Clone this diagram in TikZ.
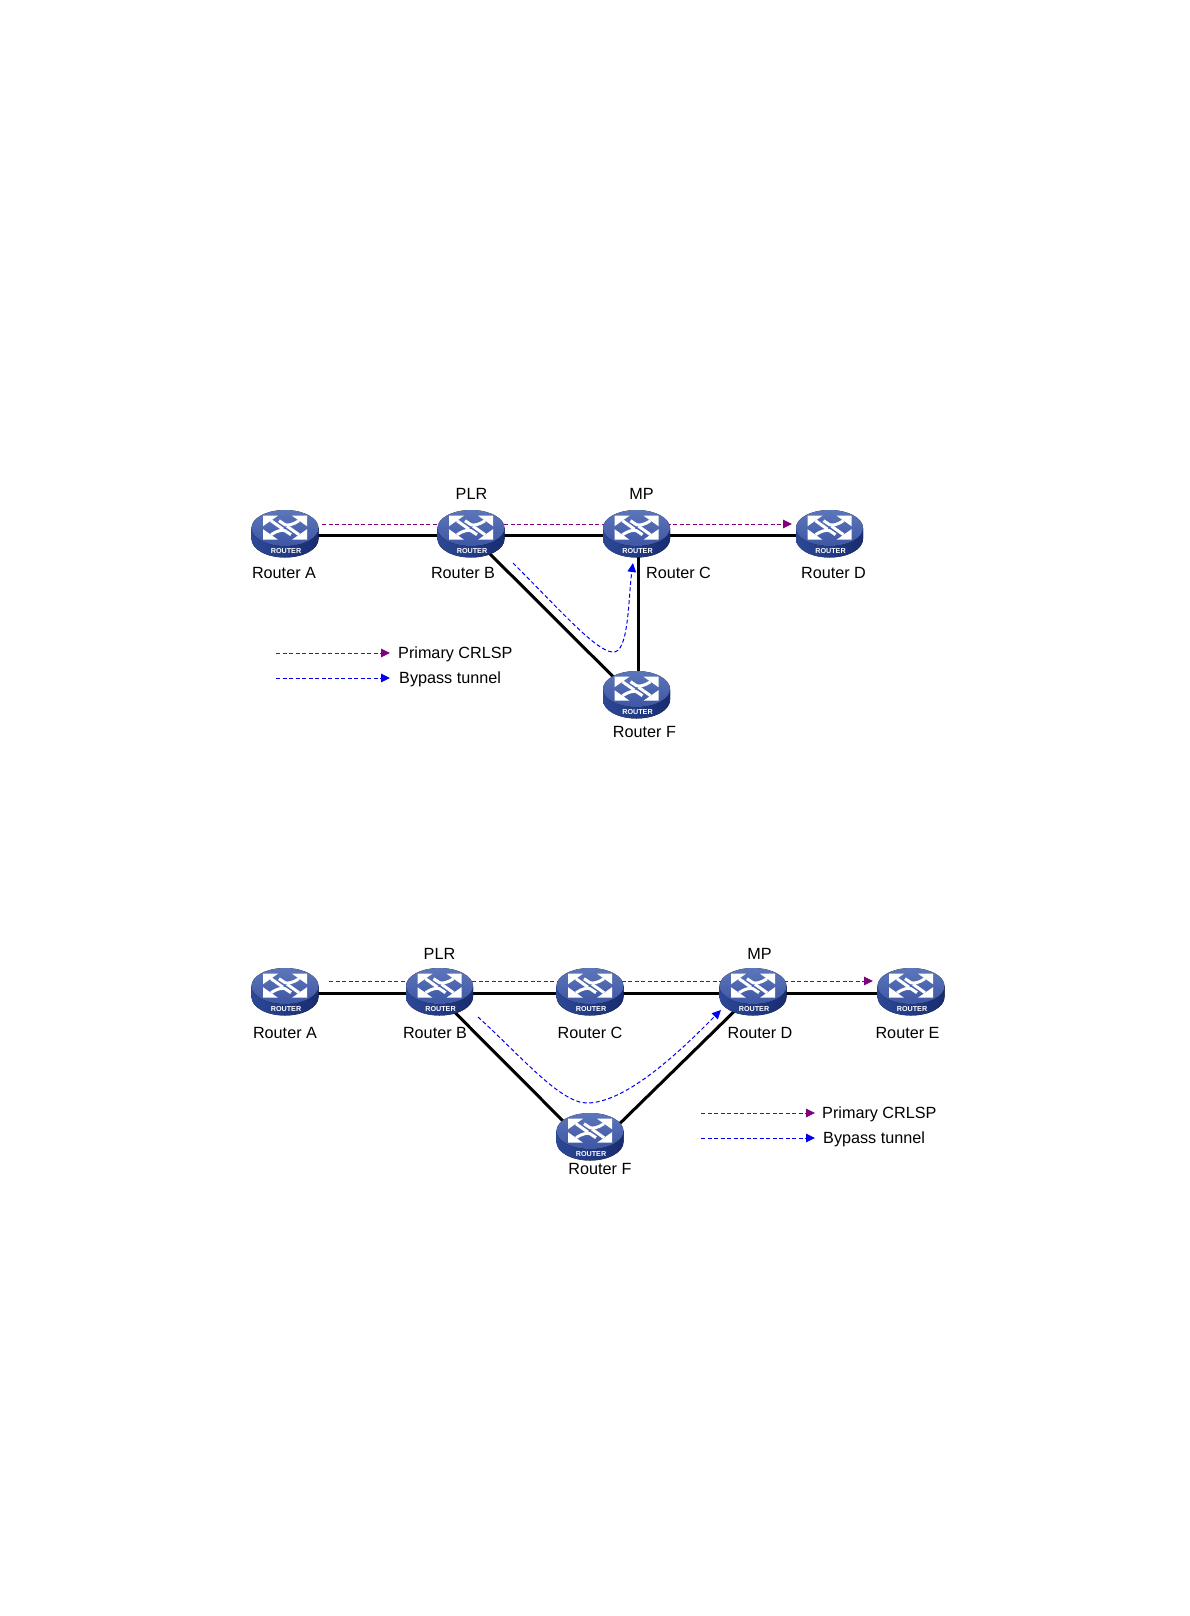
\documentclass[tikz,border=0pt]{standalone}
\usepackage{fontspec}
\setmainfont{Liberation Sans}
\usetikzlibrary{arrows.meta}
\definecolor{primary}{RGB}{128,0,128}
\definecolor{bypass}{RGB}{0,0,240}
\definecolor{discTop}{RGB}{92,118,186}
\definecolor{discLow}{RGB}{62,86,164}
\definecolor{rimA}{RGB}{44,72,150}
\definecolor{rimB}{RGB}{24,44,112}
\tikzset{
  anchorpt/.style={inner sep=0pt,minimum size=1pt},
  lbl/.style={font=\fontsize{16.2}{16.2}\selectfont,inner sep=0pt,text height=11.6pt,text depth=0pt},
  link/.style={black,line width=3pt},
  lsp/.style={line width=1pt,dash pattern=on 4pt off 2.5pt,-{Triangle[length=9pt,width=8.5pt]}},
  router/.pic={
    \fill[left color=rimA,right color=rimB] (-33.5,-7)--(-33.5,4) .. controls (-33.5,14.2) and (-18.5,22.5) .. (0,22.5) .. controls (18.5,22.5) and (33.5,14.2) .. (33.5,4)--(33.5,-7)--cycle;
    \fill[top color=discTop,bottom color=discLow] (0,-7) ellipse[x radius=33.5,y radius=18];
    \begin{scope}[yshift=7.3pt,white]
      \foreach \a in {0,180}{
        \begin{scope}[rotate=\a]
          % corner heads
          \fill (-22,-12)--(-7,-12)--(-22,-1.5)--cycle;
          \fill (22,-12)--(7,-12)--(22,-1.5)--cycle;
          % tails
          \draw[line width=3pt] (-14,-7)--(-2,1.5);
          \draw[line width=3pt] (14,-7) .. controls (8,-3) and (3,-2) .. (0,-3) .. controls (-2,-4) and (-4,-6) .. (-6,-7);
        \end{scope}
      }
    \end{scope}
    \node[white,font=\bfseries\fontsize{7.2}{7.2}\selectfont,inner sep=0pt] (tag) at (1,16.5) {ROUTER};
  }
}
\begin{document}
\begin{tikzpicture}[x=1pt,y=-1pt]
  \useasboundingbox[fill=white] (0,0) rectangle (1190,1616);
  % routers, upper and lower network
  \foreach \nm/\x/\y in {ua/285/535,ub/471/535,uc/636.5/535,ud/829.5/535,uf/636.5/696,
                         la/285/993,lb/439.5/993,lc/590/993,ld/753/993,le/911/993,lf/590/1138}{
    \node[anchorpt] (\nm) at (\x,\y) {};
  }
  \foreach \a/\b in {ua/ub,ub/uc,uc/ud,la/lb,lb/lc,lc/ld,ld/le}{
    \draw[link] (\a.center)--(\b.center);
  }
  \draw[link] (ub.center)--([xshift=-4pt]uf.center);
  \draw[link] ([xshift=2pt]uc.center)--([xshift=2pt]uf.center);
  \draw[link] ([xshift=-4pt]lb.center)--([xshift=-10pt]lf.center);
  \draw[link] (ld.center)--([xshift=15pt]lf.center);
  % primary paths
  \coordinate (upA) at (322,524);
  \coordinate (upB) at (792,524);
  \coordinate (lpA) at (329,981);
  \coordinate (lpB) at (873,981);
  \draw[lsp,primary] (upA)--(upB);
  \draw[lsp,primary] (lpA)--(lpB);
  \foreach \nm in {ua,ub,uc,ud,uf,la,lb,lc,ld,le,lf}{
    \pic (\nm-icon) at (\nm) {router};
  }
  % bypass tunnels
  \coordinate (ubA) at (513,563);
  \coordinate (ubB) at (633,563);
  \coordinate (lbA) at (478,1017);
  \coordinate (lbB) at (721,1010);
  \draw[lsp,bypass] (ubA) .. controls (560,610) and (595,650) .. (612,652) .. controls (629,655) and (628,600) .. (ubB);
  \draw[lsp,bypass] (lbA) .. controls (520,1055) and (560,1103) .. (587,1103) .. controls (630,1103) and (692,1039) .. (lbB);
  % labels
  \foreach \nm/\x/\y/\txt in {
    tA/284/573/Router A,tB/463/573/Router B,tC/678.5/573/Router C,tD/833.5/573/Router D,tF/644.5/732/Router F,
    tP/471.5/494/PLR,tM/641.5/494/MP,
    bA/285/1033/Router A,bB/435/1033/Router B,bC/590/1033/Router C,bD/760/1033/Router D,bE/907.5/1033/Router E,bF/600/1169/Router F,
    bP/439.5/954/PLR,bM/759.5/954/MP}{
    \node[lbl] (\nm) at (\x,\y) {\txt};
  }
  % legends
  \foreach \nm/\xa/\xb/\xc/\ya/\yb in {u/276/390/398/653/678,l/701/815/822/1113/1138}{
    \coordinate (\nm legA) at (\xa,\ya);
    \coordinate (\nm legB) at (\xb,\ya);
    \coordinate (\nm legC) at (\xa,\yb);
    \coordinate (\nm legD) at (\xb,\yb);
    \draw[lsp,primary] (\nm legA)--(\nm legB);
    \draw[lsp,bypass] (\nm legC)--(\nm legD);
    \node[lbl,anchor=west] (\nm legP) at (\xc,\ya) {Primary CRLSP};
    \node[lbl,anchor=west] (\nm legT) at (\xc+1,\yb) {Bypass tunnel};
  }
\end{tikzpicture}
\end{document}
